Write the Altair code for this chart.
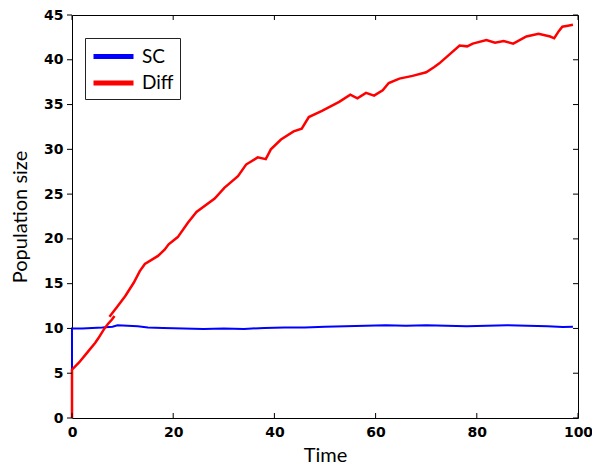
import altair as alt
import pandas as pd

# ---- data ----
sc_t = [0, 0, 2, 4, 6, 8, 9, 11, 13, 15, 18, 22, 26, 30, 34, 38, 42, 46, 50, 54, 58, 62, 66, 70, 74, 78, 82, 86, 90, 94, 97, 99]
sc_y = [5.3, 10.0, 10.0, 10.05, 10.1, 10.2, 10.35, 10.3, 10.25, 10.1, 10.05, 10.0, 9.95, 10.0, 9.95, 10.05, 10.1, 10.1, 10.2, 10.25, 10.3, 10.35, 10.3, 10.35, 10.3, 10.25, 10.3, 10.35, 10.3, 10.25, 10.15, 10.2]

diff1_t = [0, 0, 1.4, 3.0, 4.6, 5.2, 6.3, 7.1, 7.9, 8.4]
diff1_y = [0, 5.4, 6.2, 7.3, 8.4, 8.9, 9.9, 10.5, 11.0, 11.4]

diff2_t = [7.4, 8.9, 10.5, 12.2, 13.4, 14.4, 17.0, 18.3, 19.1, 20.9, 22.9, 24.6, 28.2, 30.1, 32.8, 34.4,
           36.7, 38.3, 39.3, 41.3, 43.8, 45.4, 46.8, 49.4, 52.8, 55.0, 56.4, 58.1, 59.7, 61.4, 62.6,
           64.7, 67.3, 70.0, 71.6, 72.6, 74.0, 76.6, 78.1, 79.2, 81.9, 83.6, 85.3, 87.2, 89.8, 92.2,
           94.5, 95.3, 96.2, 96.9, 98.0, 99.0]
diff2_y = [11.3, 12.4, 13.6, 15.1, 16.4, 17.2, 18.1, 18.8, 19.4, 20.2, 21.8, 23.0, 24.5, 25.7, 27.0, 28.3,
           29.1, 28.9, 30.0, 31.1, 32.0, 32.3, 33.6, 34.3, 35.3, 36.1, 35.7, 36.3, 36.0, 36.6, 37.4,
           37.9, 38.2, 38.6, 39.2, 39.6, 40.3, 41.6, 41.5, 41.8, 42.2, 41.9, 42.1, 41.8, 42.6, 42.9,
           42.6, 42.4, 43.2, 43.7, 43.8, 43.9]

series_names = ["SC", "Diff"]
series_colors = ["#0000ff", "#ff0000"]
x_ticks = [0, 20, 40, 60, 80, 100]
y_ticks = [0, 5, 10, 15, 20, 25, 30, 35, 40, 45]

W, H = 506, 403

def frame(ts, ys, series, seg):
    return pd.DataFrame({"t": ts, "y": ys, "series": series, "seg": seg, "i": list(range(len(ts)))})

sc_df = frame(sc_t, sc_y, "SC", "sc")
diff_df = pd.concat([frame(diff1_t, diff1_y, "Diff", "d1"), frame(diff2_t, diff2_y, "Diff", "d2")])

x_scale = alt.Scale(domain=[0, 100], nice=False, zero=False)
y_scale = alt.Scale(domain=[0, 45], nice=False, zero=False)
color_scale = alt.Scale(domain=series_names, range=series_colors)

label_style = dict(labelFont="DejaVu Sans", labelFontWeight="bold", labelFontSize=14, labelColor="black",
                   ticks=False, tickSize=0, domain=False, grid=False,
                   titleFont="Lato", titleFontWeight="normal", titleFontSize=20, titleColor="black")

x_axis = alt.Axis(values=x_ticks, title="Time", labelPadding=7, titlePadding=6, labelFlush=False, **label_style)
y_axis = alt.Axis(values=y_ticks, title="Population size", labelPadding=9, titlePadding=13, labelFlush=False, **label_style)

legend = alt.Legend(title=None, orient="none", legendX=13, legendY=23,
                    symbolType="M-1,0H3", symbolSize=400,
                    symbolStrokeWidth=5, labelFont="Lato", labelFontSize=19, labelColor="black", labelOffset=26,
                    padding=6, strokeColor="#222222", fillColor="white", rowPadding=3.5)

X = alt.X("t:Q", scale=x_scale, axis=x_axis)
Y = alt.Y("y:Q", scale=y_scale, axis=y_axis)

sc_line = alt.Chart(sc_df).mark_line(strokeWidth=2).encode(
    x=X, y=Y,
    color=alt.Color("series:N", scale=color_scale, legend=legend),
    detail="seg:N",
    order="i:Q",
)

diff_line = alt.Chart(diff_df).mark_line(strokeWidth=2.5).encode(
    x=X, y=Y,
    color=alt.Color("series:N", scale=color_scale, legend=legend),
    detail="seg:N",
    order="i:Q",
)

xt = pd.DataFrame({"t": x_ticks})
yt = pd.DataFrame({"y": y_ticks})

bottom_ticks = alt.Chart(xt).mark_rule(color="black", strokeWidth=1).encode(
    x=X, y=alt.value(H), y2=alt.value(H - 5))
top_ticks = alt.Chart(xt).mark_rule(color="black", strokeWidth=1).encode(
    x=X, y=alt.value(0), y2=alt.value(5))
left_ticks = alt.Chart(yt).mark_rule(color="black", strokeWidth=1).encode(
    y=Y, x=alt.value(-5), x2=alt.value(0))
right_ticks = alt.Chart(yt).mark_rule(color="black", strokeWidth=1).encode(
    y=Y, x=alt.value(W - 5), x2=alt.value(W))

chart = alt.layer(sc_line, diff_line, bottom_ticks, top_ticks, left_ticks, right_ticks).properties(
    width=W, height=H,
    autosize=alt.AutoSizeParams(type="none"),
    padding={"left": 64, "top": 7, "right": 14, "bottom": 48},
    background="white",
).configure_view(stroke="black", strokeWidth=1)

chart.save("out.html", embed_options={"renderer": "svg", "actions": False})
